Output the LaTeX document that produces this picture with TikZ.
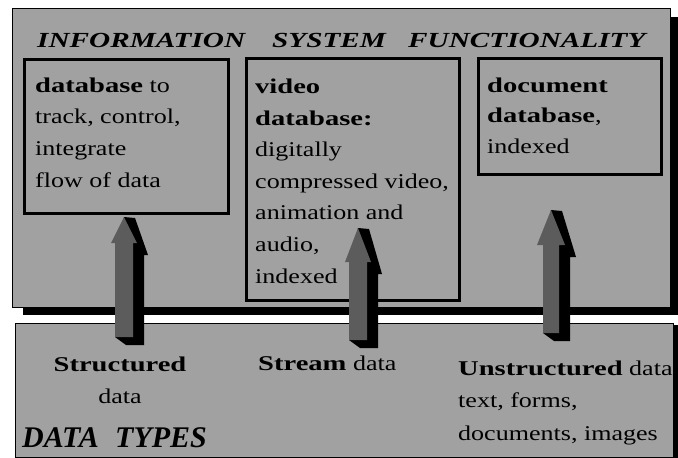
\documentclass[tikz,border=0pt]{standalone}
\usepackage{fontspec}
\setmainfont{Liberation Serif}[FakeStretch=1.24]
\newfontfamily\heavyface{Liberation Serif}[FakeStretch=1.36]
\newfontfamily\plainface{Liberation Serif}
\newcommand\hb[1]{{\heavyface\bfseries #1}}
\definecolor{screen}{gray}{0.63}
\definecolor{arrowgray}{gray}{0.36}

% #1 centre x, #2 tip y, #3 head base y, #4 bottom y, #5 shaft half width, #6 head half width
\newcommand\liftarrow[6]{%
  \fill[black] (#1,#2) -- ({#1+11},{#2+1}) -- ({#1+#6+11},{#3+12}) -- ({#1+#5+11},{#3+12})
    -- ({#1+#5+11},{#4+8}) -- ({#1-#5+11},{#4+8}) -- ({#1-#5},#4) -- cycle;
  \fill[arrowgray] (#1,#2) -- ({#1+#6},#3) -- ({#1+#5},#3) -- ({#1+#5},#4)
    -- ({#1-#5},#4) -- ({#1-#5},#3) -- ({#1-#6},#3) -- cycle;}

% multi-line texts are placed by the baseline of their last line
\tikzset{
  panel/.style={draw=black, line width=1.3pt, fill=screen, inner sep=0pt, anchor=north west},
  store/.style={draw=black, line width=3pt, inner sep=0pt, anchor=north west},
  body/.style={inner sep=0pt, anchor=base west, align=left, font=\fontsize{21}{31.6}\selectfont},
  heading/.style={inner sep=0pt, anchor=base west, font=\fontsize{21.5}{26}\selectfont\heavyface\bfseries\itshape},
  bigheading/.style={inner sep=0pt, anchor=base west, font=\fontsize{30}{34}\selectfont\plainface\bfseries\itshape},
}

\begin{document}
\begin{tikzpicture}[x=1pt, y=-1pt]
\useasboundingbox (0,0) rectangle (678,458);
\fill[white] (0,0) rectangle (678,458);

% upper panel with its drop shadow
\fill[black] (23,17) rectangle (678,315);
\node[panel, minimum width=658pt, minimum height=299pt] (info) at (12,8) {};

% lower panel with its shadow on the right
\fill[black] (20,325) rectangle (678,462);
\node[panel, minimum width=658pt, minimum height=134pt] (types) at (15,323) {};

% heading of the upper panel
\node[heading] (h1) at (37,47) {INFORMATION};
\node[heading] (h2) at (272,47) {SYSTEM};
\node[heading] (h3) at (408,47) {FUNCTIONALITY};

% the three stores
\node[store, minimum width=204pt, minimum height=154pt] (db) at (23,58) {};
\node[store, minimum width=213pt, minimum height=242pt] (video) at (245,57) {};
\node[store, minimum width=183pt, minimum height=116pt] (doc) at (477,57) {};

\node[body] (dbtext) at (35,187) {\hb{database} to\\track, control,\\integrate\\flow of data};
\node[body] (videotext) at (255,283) {\hb{video}\\\hb{database:}\\digitally\\compressed video,\\animation and\\audio,\\indexed};
\node[body, font=\fontsize{21}{30.5}\selectfont] (doctext) at (487,153) {\hb{document}\\\hb{database},\\indexed};

% lifting arrows from the data types into the system
\liftarrow{124}{217}{243}{337}{9}{13}
\liftarrow{358}{228}{262}{340}{9}{13}
\liftarrow{551}{210}{245}{333}{8}{14}

% data types
\node[body, anchor=base, align=center] (structured) at (120,403) {\hb{Structured}\\data};
\node[body] (stream) at (258,370) {\hb{Stream} data};
\begin{scope}
  \clip (15,323) rectangle (673,457);
  \node[body, font=\fontsize{21}{32.5}\selectfont] (unstructured) at (458,440)
    {\hb{Unstructured} data\\text, forms,\\documents, images};
\end{scope}
\node[bigheading] (dt1) at (22,447) {DATA};
\node[bigheading] (dt2) at (115,447) {TYPES};
\end{tikzpicture}
\end{document}
